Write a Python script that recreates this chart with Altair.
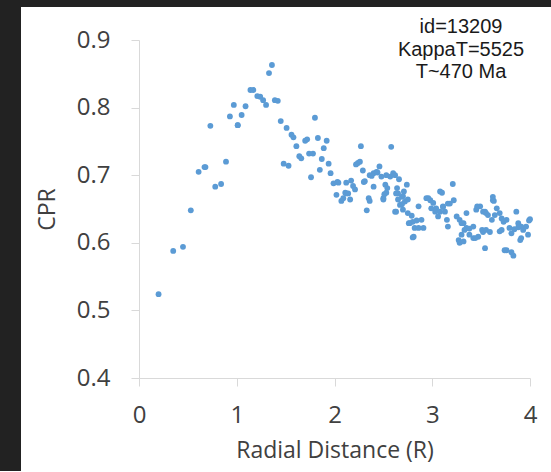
import altair as alt
import pandas as pd

# Radial distance (R) values
radial = [
    0.20, 0.35, 0.45, 0.53, 0.61, 0.68, 0.73, 0.78, 0.84, 0.89, 0.93, 0.97, 1.01, 1.05, 1.09,
    1.14, 1.17, 1.21, 1.24, 1.27, 1.30, 1.33, 1.36, 1.39, 1.42, 1.45, 1.48, 1.51, 1.53, 1.56,
    1.58, 1.61, 1.64, 1.66, 1.70, 1.72, 1.74, 1.76, 1.78, 1.80, 1.83, 1.85, 1.87, 1.89, 1.92,
    1.94, 1.96, 1.99, 2.04, 2.12, 2.17, 2.19, 2.21, 2.02, 2.07, 2.09, 2.12, 2.16, 2.27, 2.58,
    2.24, 2.26, 2.29, 2.31, 2.36, 2.40, 2.43, 2.46, 2.48, 2.35, 2.36, 2.33, 2.53, 2.57, 2.60,
    2.62, 2.66, 2.52, 2.54, 2.50, 2.53, 2.64, 2.65, 2.69, 2.71, 2.74, 2.62, 2.67, 2.70, 2.72,
    2.75, 2.77, 2.82, 2.86, 2.91, 2.81, 2.86, 2.89, 2.94, 2.98, 3.01, 3.04, 3.08, 3.10, 2.99,
    3.03, 3.08, 3.11, 3.16, 3.21, 3.22, 3.06, 3.15, 3.16, 3.25, 3.28, 3.32, 3.35, 3.35, 3.27,
    3.30, 3.33, 3.38, 3.42, 3.47, 3.51, 3.54, 3.42, 3.45, 3.49, 3.54, 3.57, 3.61, 3.62, 3.62,
    3.66, 3.69, 3.71, 3.73, 3.76, 3.71, 3.76, 3.81, 3.83, 3.86, 3.88, 3.91, 3.93, 3.96, 3.99,
    3.79, 3.81, 3.90, 3.91, 3.98,
    2.40, 2.51, 2.50, 2.63, 2.65, 2.70, 2.75, 2.69, 2.63, 2.79, 2.80, 2.76, 2.84, 2.80, 2.96,
    3.13, 3.18, 3.11, 3.30, 3.46, 3.52, 3.55, 3.63, 3.64, 3.84, 3.88, 4.00, 3.74, 3.44, 3.52,
    3.55, 3.38, 3.69, 3.59, 3.28, 3.32, 2.03, 2.11, 2.14, 2.22, 2.30, 2.38, 2.44, 1.01, 0.67,
]

# CPR values
cpr = [
    0.524, 0.588, 0.594, 0.648, 0.705, 0.712, 0.773, 0.683, 0.687, 0.720, 0.787, 0.804, 0.774, 0.789, 0.802,
    0.826, 0.826, 0.817, 0.816, 0.811, 0.804, 0.851, 0.863, 0.811, 0.810, 0.780, 0.717, 0.770, 0.714, 0.760,
    0.756, 0.743, 0.728, 0.725, 0.751, 0.753, 0.732, 0.697, 0.732, 0.785, 0.755, 0.708, 0.724, 0.740, 0.751,
    0.717, 0.703, 0.688, 0.689, 0.689, 0.692, 0.684, 0.679, 0.671, 0.662, 0.666, 0.673, 0.664, 0.743, 0.742,
    0.718, 0.720, 0.707, 0.691, 0.700, 0.703, 0.705, 0.713, 0.698, 0.666, 0.662, 0.648, 0.700, 0.698, 0.703,
    0.700, 0.694, 0.686, 0.681, 0.666, 0.674, 0.681, 0.673, 0.668, 0.676, 0.686, 0.646, 0.656, 0.649, 0.661,
    0.644, 0.629, 0.622, 0.622, 0.622, 0.609, 0.654, 0.634, 0.666, 0.663, 0.659, 0.651, 0.676, 0.674, 0.651,
    0.646, 0.646, 0.654, 0.658, 0.687, 0.663, 0.639, 0.634, 0.624, 0.639, 0.634, 0.629, 0.644, 0.622, 0.604,
    0.612, 0.619, 0.612, 0.607, 0.609, 0.619, 0.592, 0.624, 0.649, 0.654, 0.646, 0.641, 0.634, 0.668, 0.663,
    0.651, 0.644, 0.636, 0.631, 0.634, 0.619, 0.589, 0.586, 0.581, 0.646, 0.629, 0.624, 0.619, 0.624, 0.633,
    0.622, 0.614, 0.604, 0.607, 0.612,
    0.683, 0.672, 0.664, 0.673, 0.664, 0.669, 0.664, 0.657, 0.646, 0.640, 0.631, 0.629, 0.633, 0.608, 0.666,
    0.646, 0.658, 0.653, 0.629, 0.654, 0.646, 0.644, 0.662, 0.641, 0.620, 0.623, 0.635, 0.589, 0.607, 0.616,
    0.619, 0.621, 0.617, 0.616, 0.600, 0.602, 0.690, 0.674, 0.673, 0.716, 0.690, 0.699, 0.704, 0.774, 0.712,
]

x_ticks = [0, 1, 2, 3, 4]
y_ticks = [0.4, 0.5, 0.6, 0.7, 0.8, 0.9]
note_lines = ["id=13209", "KappaT=5525", "T~470 Ma"]

df = pd.DataFrame({"r": radial, "cpr": cpr})
notes = pd.DataFrame({"line": note_lines, "i": list(range(len(note_lines)))})
dummy = pd.DataFrame({"k": [0]})

W, H = 391, 338
PAD = {"left": 139, "top": 40, "right": 21, "bottom": 93}

frame_left = alt.Chart(dummy).mark_rect(color="#222222").encode(
    x=alt.value(-PAD["left"]), x2=alt.value(-PAD["left"] + 21),
    y=alt.value(-PAD["top"]), y2=alt.value(H + PAD["bottom"]),
)
frame_top = alt.Chart(dummy).mark_rect(color="#222222").encode(
    x=alt.value(-PAD["left"]), x2=alt.value(W + PAD["right"]),
    y=alt.value(-PAD["top"]), y2=alt.value(-PAD["top"] + 7),
)

axis_common = dict(
    domainColor="#d9d9d9", tickColor="#d9d9d9", grid=False, labelFlush=False,
    labelFont="Open Sans", labelFontSize=24, labelColor="#404040",
    titleFont="Open Sans", titleFontSize=23, titleColor="#404040", titleFontWeight="normal",
    tickSize=8,
)

points = alt.Chart(df).mark_circle(size=34, color="#5B9BD5", opacity=1).encode(
    x=alt.X("r:Q", scale=alt.Scale(domain=[0, 4], nice=False),
            axis=alt.Axis(title="Radial Distance (R)", values=x_ticks, format="d",
                          labelPadding=17, titlePadding=12, **axis_common)),
    y=alt.Y("cpr:Q", scale=alt.Scale(domain=[0.4, 0.9], nice=False, zero=False),
            axis=alt.Axis(title="CPR", values=y_ticks, format=".1f",
                          labelPadding=21, titlePadding=17, **axis_common)),
)

text = alt.Chart(notes).mark_text(
    font="Liberation Sans", fontSize=20, color="#1a1a1a", align="center", baseline="middle"
).encode(
    x=alt.value(322),
    y=alt.Y("i:Q", axis=None, scale=alt.Scale(domain=[0, 2], range=[-13, 32])),
    text="line:N",
)

chart = alt.layer(frame_left, frame_top, points, text).resolve_scale(y="independent").properties(
    width=W, height=H, padding=PAD, autosize=alt.AutoSizeParams(type="none"),
    background="white",
).configure_view(stroke=None)

chart.save("out.html", embed_options={"renderer": "svg", "actions": False})
